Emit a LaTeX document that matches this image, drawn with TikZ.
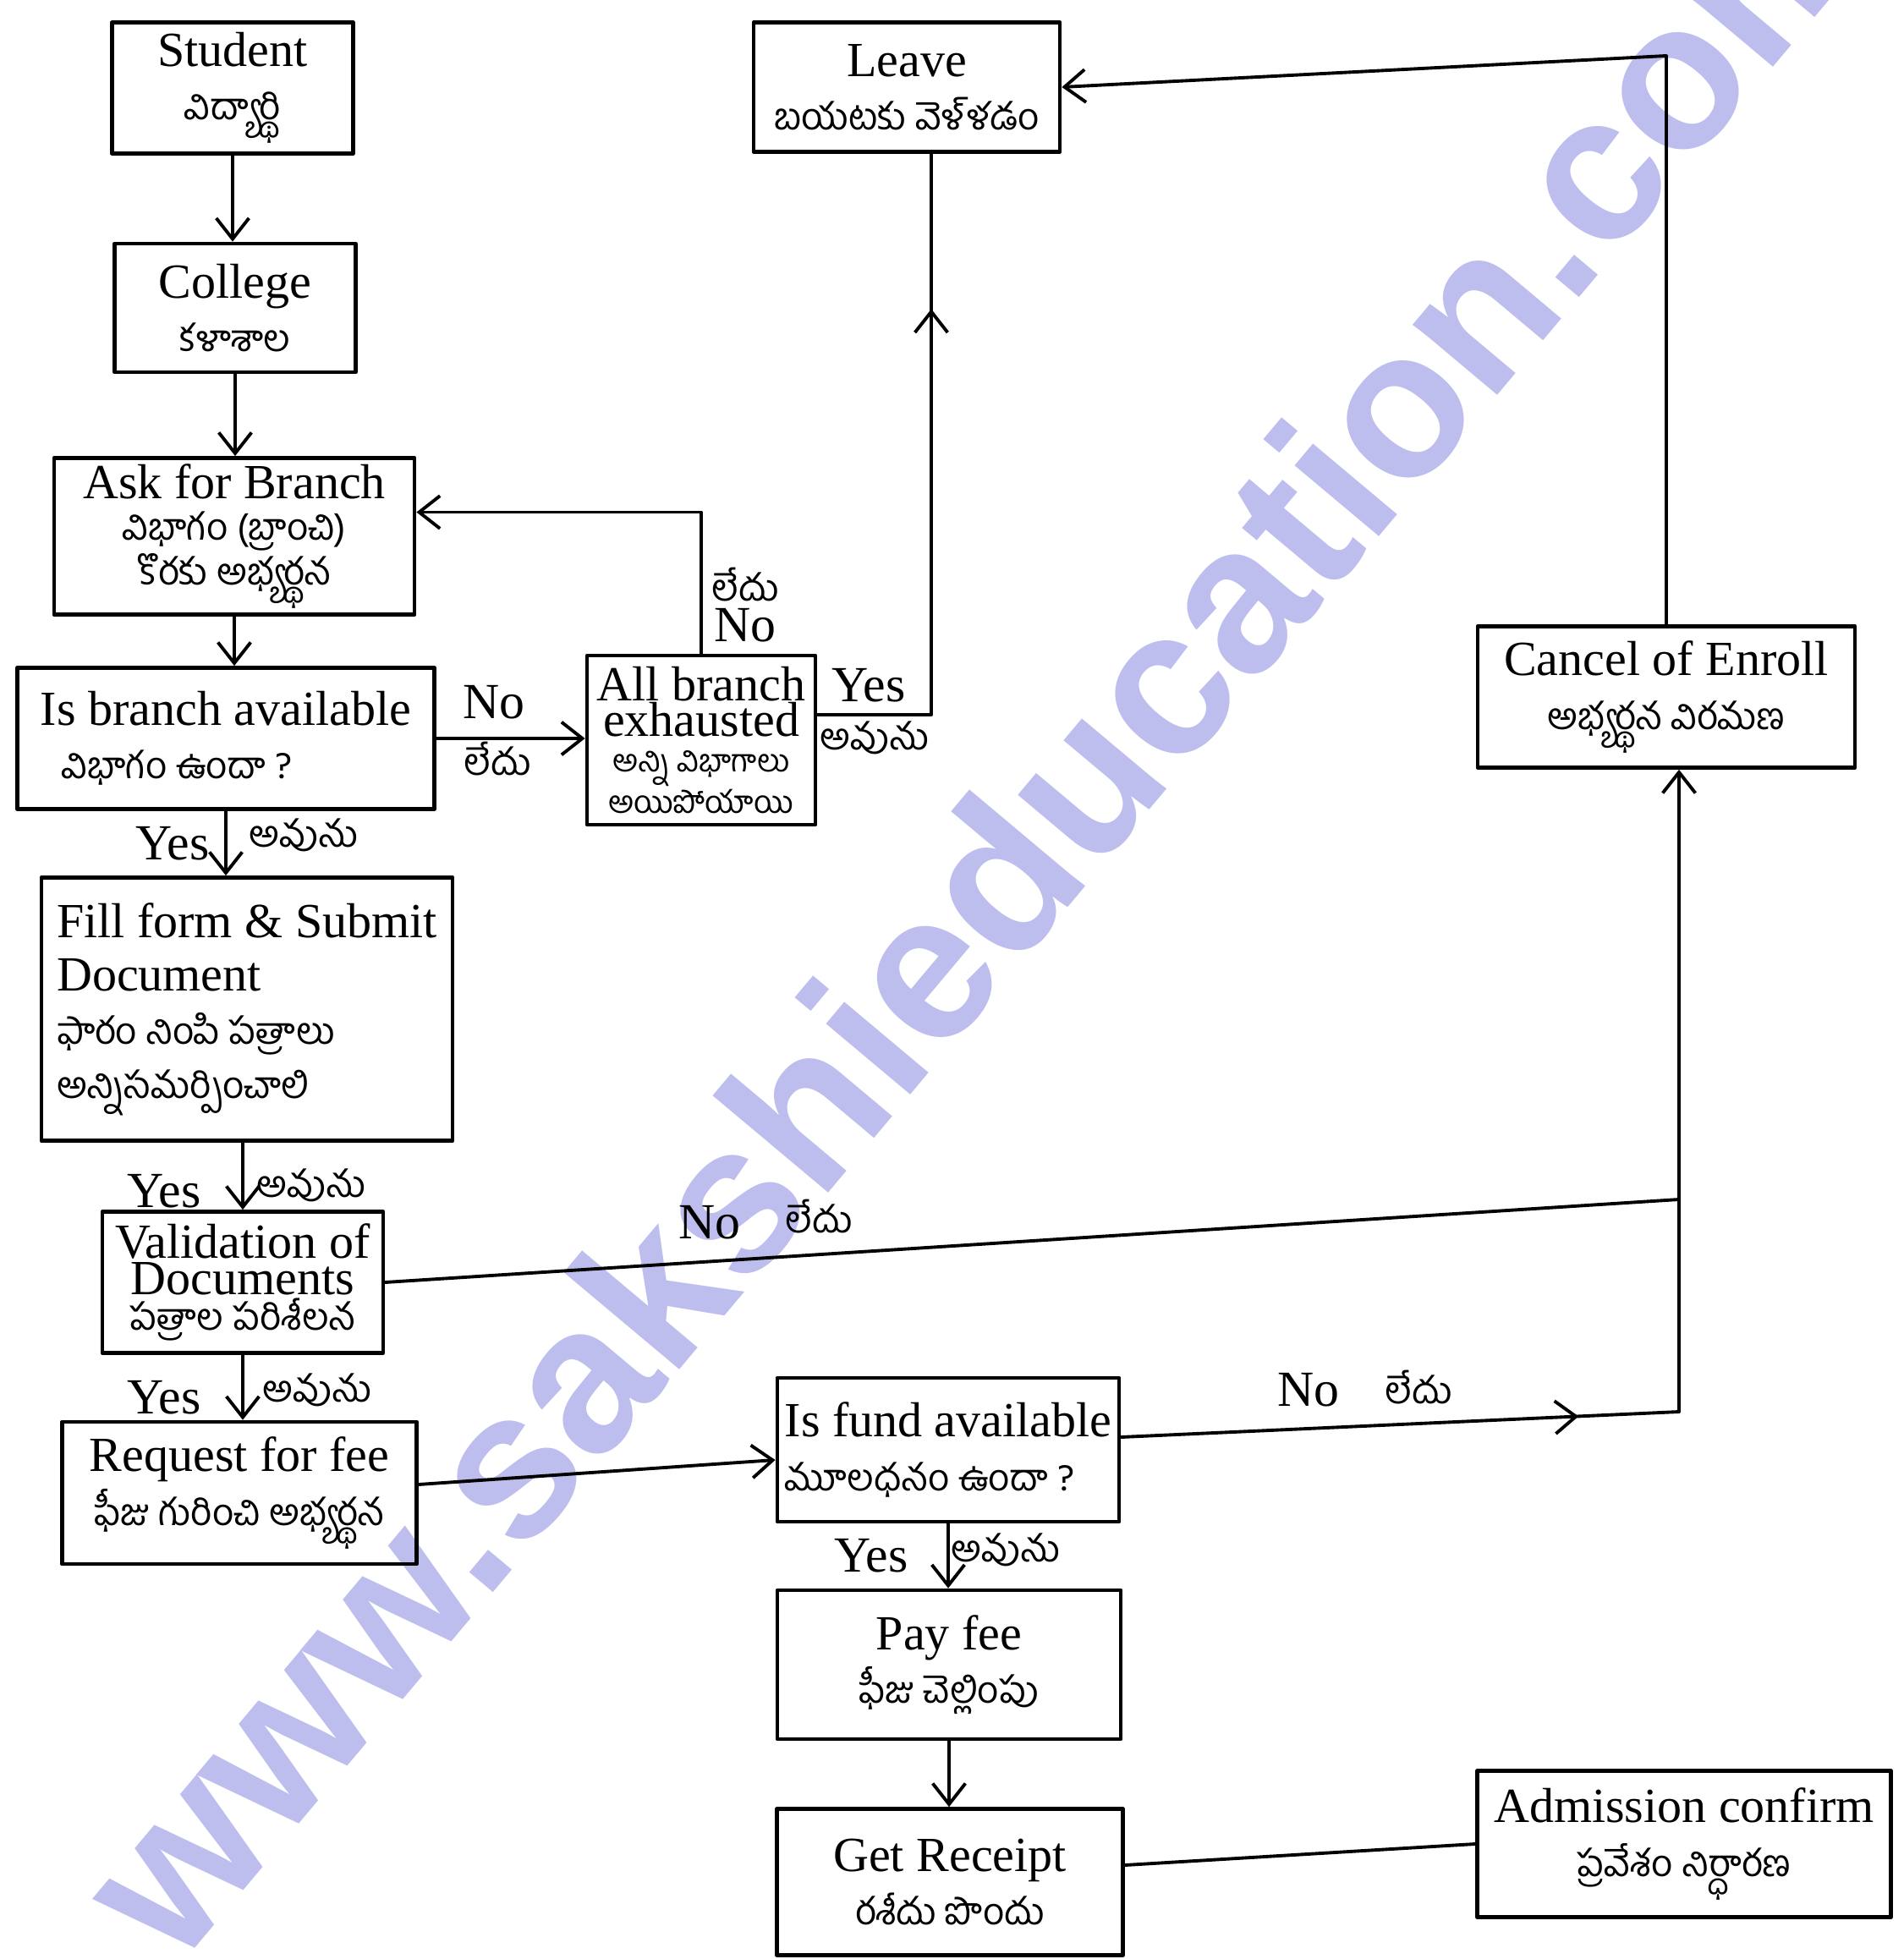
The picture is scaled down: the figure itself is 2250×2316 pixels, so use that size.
\documentclass[tikz,border=0pt]{standalone}
\usepackage{fontspec}
\setmainfont{Liberation Serif}
\newfontfamily\telugufont[Script=Telugu]{Hind Guntur}
\newfontfamily\markfont{Liberation Sans}
\usetikzlibrary{arrows.meta,calc,decorations.markings}
\definecolor{markblue}{RGB}{190,190,238}
\newcommand{\tel}[1]{{\telugufont\fontsize{12.5}{14}\selectfont #1}}
\newcommand{\telsm}[1]{{\telugufont\fontsize{10.5}{11}\selectfont #1}}

\begin{document}
\begin{tikzpicture}[x=0.01cm,y=-0.01cm,line join=round,line cap=round,
    >={Straight Barb[length=7pt,width=11pt,line width=1.1pt]}]
  \tikzset{
    flowbox/.style={draw,line width=1.3pt,align=center,inner sep=2pt,
      font=\fontsize{16.5}{18}\selectfont},
    flowline/.style={line width=1.1pt},
    midarrow/.style={postaction={decorate},decoration={markings,
      mark=at position #1 with {\arrow{>}}}},
    tag/.style={inner sep=0pt,font=\fontsize{17}{19}\selectfont}
  }
  \useasboundingbox (0,0) rectangle (2250,2316);
  % watermark
  \node[rotate=50,text=markblue,font=\markfont\bfseries\fontsize{70}{70}\selectfont]
    (mark) at (1150,1070) {www.sakshieducation.com};
  % left column
  \node[flowbox,minimum width=2.85cm,minimum height=1.55cm] (stud) at (275,104) {Student\\\tel{విద్యార్థి}};
  \node[flowbox,minimum width=2.85cm,minimum height=1.52cm] (coll) at (278,364) {College\\\tel{కళాశాల}};
  \node[flowbox,minimum width=4.26cm,minimum height=1.85cm,font=\fontsize{16.5}{14}\selectfont] (ask) at (277,634) {Ask for Branch\\\tel{విభాగం (బ్రాంచి)}\\\tel{కొరకు అభ్యర్థన}};
  \node[flowbox,align=left,minimum width=4.93cm,minimum height=1.67cm] (isbr) at (267,873) {Is branch available\\\hspace*{7pt}\tel{విభాగం ఉందా ?}};
  \node[flowbox,align=left,minimum width=4.86cm,minimum height=3.11cm] (fill) at (292,1193) {Fill form \& Submit\\Document\\\tel{ఫారం నింపి పత్రాలు}\\\tel{అన్నిసమర్పించాలి}};
  \node[flowbox,minimum width=3.32cm,minimum height=1.67cm,font=\fontsize{16.5}{12}\selectfont] (valid) at (287,1516) {Validation of\\Documents\\\tel{పత్రాల పరిశీలన}};
  \node[flowbox,minimum width=4.19cm,minimum height=1.68cm] (req) at (283,1765) {Request for fee\\\tel{ఫీజు గురించి అభ్యర్థన}};
  % middle column
  \node[flowbox,minimum width=2.70cm,minimum height=2.00cm,font=\fontsize{16.5}{12}\selectfont] (allbr) at (829,875) {All branch\\exhausted\\\telsm{అన్ని విభాగాలు}\\\telsm{అయిపోయాయి}};
  \node[flowbox,minimum width=3.62cm,minimum height=1.53cm] (leave) at (1072,103) {Leave\\\tel{బయటకు వెళ్ళడం}};
  \node[flowbox,align=left,minimum width=4.04cm,minimum height=1.70cm] (fund) at (1121,1714) {Is fund available\\\tel{మూలధనం ఉందా ?}};
  \node[flowbox,minimum width=4.06cm,minimum height=1.76cm] (pay) at (1122,1968) {Pay fee\\\tel{ఫీజు చెల్లింపు}};
  \node[flowbox,minimum width=4.09cm,minimum height=1.73cm] (rcpt) at (1123,2225) {Get Receipt\\\tel{రశీదు పొందు}};
  % right column
  \node[flowbox,minimum width=4.46cm,minimum height=1.67cm] (cancel) at (1970,824) {Cancel of Enroll\\\tel{అభ్యర్థన విరమణ}};
  \node[flowbox,minimum width=4.89cm,minimum height=1.73cm] (admit) at (1991,2180) {Admission confirm\\\tel{ప్రవేశం నిర్ధారణ}};
  % main flow
  \draw[flowline,->] (stud) -- (stud |- coll.north);
  \draw[flowline,->] (coll) -- (coll |- ask.north);
  \draw[flowline,->] (ask) -- (ask |- isbr.north);
  \draw[flowline,->] (isbr) -- (isbr |- fill.north);
  \draw[flowline,->] (valid |- fill.south) -- (valid.north);
  \draw[flowline,->] (valid) -- (valid |- req.north);
  \draw[flowline,->] ($(req.east)+(0,-10)$) -- ($(fund.west)+(0,12)$);
  \draw[flowline,->] (fund) -- (fund |- pay.north);
  \draw[flowline,->] (pay) -- (pay |- rcpt.north);
  \draw[flowline] ($(rcpt.east)+(0,-20)$) -- (admit.west);
  % branch loop
  \draw[flowline,->] (isbr.east) -- (isbr.east -| allbr.west);
  \draw[flowline,->] (allbr.north) |- ($(ask.north east)!0.35!(ask.south east)$);
  \coordinate (lvfoot) at ($(leave.south)+(29,0)$);
  \draw[flowline,midarrow=0.77] ($(allbr.east)+(0,-30)$) -| (lvfoot);
  % cancel path
  \coordinate (riseV) at (1985,1418);
  \coordinate (riseF) at (1985,1669);
  \coordinate (topbend) at (1970,66);
  \draw[flowline] (valid.east) -- (riseV);
  \draw[flowline,midarrow=0.82] ($(fund.east)+(0,-15)$) -- (riseF);
  \draw[flowline,->] (riseF) -- (riseF |- cancel.south);
  \draw[flowline,->] (cancel.north) -- (topbend) -- (leave.east);
  % yes / no labels
  \foreach \nm/\px/\py/\txt in {
    noA/584/830/No, noAt/588/897/\tel{లేదు},
    noB/881/739/No, noBt/881/691/\tel{లేదు},
    yesB/1027/810/Yes, yesBt/1034/872/\tel{అవును},
    yesC/204/997/Yes, yesCt/359/987/\tel{అవును},
    yesD/194/1408/Yes, yesDt/368/1401/\tel{అవును},
    noE/839/1445/No, noEt/968/1438/\tel{లేదు},
    yesF/194/1652/Yes, yesFt/375/1643/\tel{అవును},
    noG/1547/1643/No, noGt/1677/1640/\tel{లేదు},
    yesH/1030/1839/Yes, yesHt/1189/1832/\tel{అవును}
  }{
    \node[tag] (\nm) at (\px,\py) {\txt};
  }
\end{tikzpicture}
\end{document}
